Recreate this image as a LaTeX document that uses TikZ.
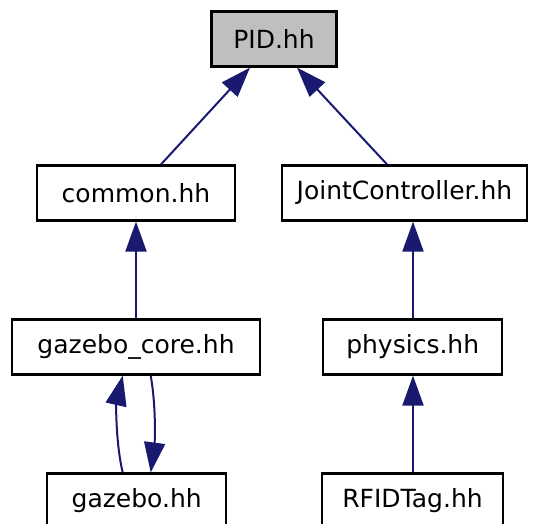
\documentclass[tikz,border=0pt]{standalone}
\usepackage{fontspec}
\setmainfont{DejaVu Sans}
\usetikzlibrary{arrows.meta}
\definecolor{edgeblue}{HTML}{191970}
\definecolor{pidgray}{HTML}{BFBFBF}
\begin{document}
\begin{tikzpicture}[x=1pt,y=-1pt,
  filebox/.style={draw=black, line width=2.2pt, fill=white, inner sep=0pt, minimum height=55pt,
    font=\fontsize{25}{29}\selectfont},
  dep/.style={draw=edgeblue, line width=2pt, -{Triangle[length=30pt,width=21pt]}}]
\useasboundingbox (0,0) rectangle (535,524);
\node[filebox, fill=pidgray, minimum width=125pt] (pid) at (274,39) {PID.hh};
\node[filebox, minimum width=198pt] (common) at (136,193) {common.hh};
\node[filebox, minimum width=245pt] (joint) at (404.5,193) {JointController.hh};
\node[filebox, minimum width=248pt] (core) at (136,347) {gazebo\_core.hh};
\node[filebox, minimum width=179pt] (physics) at (412.7,347) {physics.hh};
\node[filebox, minimum width=179pt] (gazebo) at (136.7,501) {gazebo.hh};
\node[filebox, minimum width=181pt] (rfid) at (412.5,501) {RFIDTag.hh};
\draw[dep] (common.north -| 161,0) -- (pid.south -| 250,0);
\draw[dep] (joint.north -| 387,0) -- (pid.south -| 297,0);
\draw[dep] (core.north -| 136,0) -- (common.south -| 136,0);
\draw[dep] (physics.north -| 413,0) -- (joint.south -| 413,0);
\draw[dep] (rfid.north -| 413,0) -- (physics.south -| 413,0);
\draw[dep] (gazebo.north -| 122.7,0) .. controls (116,445) and (116,405) .. (core.south -| 122.7,0);
\draw[dep] (core.south -| 150.7,0) .. controls (156,405) and (155,440) .. (gazebo.north -| 150.7,0);
\end{tikzpicture}
\end{document}
